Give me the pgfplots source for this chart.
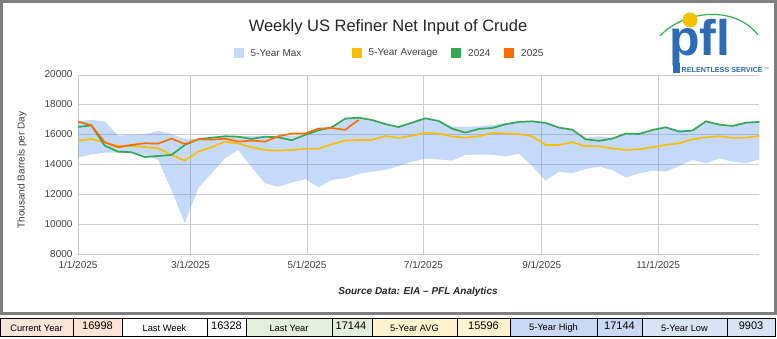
\documentclass[border=0pt]{standalone}
\usepackage{fontspec}
\setmainfont{Liberation Sans}
\usepackage{pgfplots}
\usepackage{pgfplotstable}
\pgfplotsset{compat=1.18}

\definecolor{gblue}{HTML}{4285F4}
\definecolor{gyellow}{HTML}{FBBC04}
\definecolor{ggreen}{HTML}{34A853}
\definecolor{gorange}{HTML}{FF6D01}
\definecolor{gridc}{HTML}{CCCCCC}
\definecolor{bandleg}{HTML}{C6DAFC}
\definecolor{framec}{HTML}{7F7F7F}
\definecolor{pflblue}{HTML}{2E6BB5}
\definecolor{pflgreen}{HTML}{2DB34A}
\definecolor{pflyellow}{HTML}{F5C200}
\definecolor{cpeach}{HTML}{FCE4D6}
\definecolor{cgreen}{HTML}{E2EFDA}
\definecolor{cyellow}{HTML}{FFF2CC}
\definecolor{chigh}{HTML}{C9D9F5}
\definecolor{clow}{HTML}{D6E4F5}

\pgfplotstableread{
day avg y2024
0 15610 16520
7 15720 16630
14 15470 15270
21 15250 14870
28 15270 14830
35 15180 14510
42 15090 14580
49 14650 14650
56 14270 15320
63 14870 15700
70 15160 15800
77 15540 15900
84 15410 15870
91 15160 15720
98 14980 15870
105 14940 15830
112 14980 15630
119 15070 15990
126 15070 16300
133 15360 16500
140 15610 17080
147 15650 17144
154 15650 16990
161 15920 16720
168 15790 16520
175 15940 16810
182 16140 17100
189 16080 16920
196 15880 16410
203 15810 16140
210 15900 16390
217 16120 16450
224 16080 16700
231 16050 16860
238 15900 16900
245 15320 16790
252 15320 16480
259 15500 16340
266 15230 15700
273 15230 15590
280 15090 15740
287 14980 16080
294 15030 16050
301 15160 16320
308 15320 16500
315 15430 16210
322 15700 16280
329 15830 16900
336 15900 16680
343 15790 16590
350 15810 16810
357 15920 16860
}\hist

% 5-year range: 5-year max from the first week to the last, then 5-year min back
\pgfplotstableread{
day val
0 16920
7 16990
14 16880
21 15940
28 15990
35 16030
42 16250
49 16050
56 15720
63 15720
70 15800
77 15900
84 15930
91 15930
98 15930
105 15930
112 15930
119 15990
126 16300
133 16500
140 17080
147 17144
154 16990
161 16720
168 16520
175 16810
182 17100
189 16920
196 16560
203 16540
210 16560
217 16650
224 16780
231 16880
238 16900
245 16790
252 16480
259 16340
266 15800
273 15900
280 15800
287 16080
294 16050
301 16320
308 16500
315 16300
322 16350
329 16900
336 16680
343 16590
350 16810
357 16860
357 14350
350 14090
343 14200
336 14420
329 14090
322 14310
315 13910
308 13530
301 13600
294 13420
287 13130
280 13640
273 13870
266 13710
259 13420
252 13530
245 12930
238 13910
231 14740
224 14540
217 14670
210 14670
203 14650
196 14270
189 14350
182 14400
175 14200
168 13910
161 13640
154 13530
147 13380
140 13090
133 12980
126 12480
119 13040
112 12800
105 12530
98 12750
91 13820
84 14980
77 14420
70 13420
63 12420
56 10080
49 12300
42 14310
35 14650
28 14800
21 14800
14 14800
7 14690
0 14470
}\band

\pgfplotstableread{
day y2025
0 16880
7 16630
14 15500
21 15160
28 15320
35 15430
42 15410
49 15740
56 15380
63 15700
70 15670
77 15740
84 15540
91 15610
98 15540
105 15900
112 16080
119 16080
126 16410
133 16450
140 16328
147 16998
}\cur

\begin{document}
\begin{tikzpicture}
\fill[white] (0,0) rectangle (777pt,339pt);

% frame
\draw[framec, line width=2.6pt] (1.3pt,25.5pt) rectangle (775.7pt,337.7pt);

\begin{axis}[
  at={(78pt,84.7pt)}, anchor=south west,
  scale only axis, width=681.3pt, height=179.3pt,
  xmin=0, xmax=357, ymin=8000, ymax=20000,
  xtick={0,59,120,181,243,304},
  xticklabels={1/1/2025,3/1/2025,5/1/2025,7/1/2025,9/1/2025,11/1/2025},
  ytick={8000,10000,12000,14000,16000,18000,20000},
  scaled y ticks=false,
  grid=major,
  major grid style={gridc, line width=0.8pt},
  axis line style={draw=none},
  tick style={draw=none},
  ticklabel style={font=\fontsize{10}{11}\selectfont, text=black!75},
  yticklabel style={xshift=-2pt, yshift=0.5pt},
  xticklabel style={yshift=-3pt},
  /pgf/number format/assume math mode=true,
  /pgf/number format/1000 sep={},
]
\addplot[fill=gblue, fill opacity=0.3, draw=none] table[x=day, y=val] {\band};
\addplot[gyellow, line width=1.7pt, line join=round] table[x=day, y=avg] {\hist};
\addplot[ggreen, line width=1.7pt, line join=round] table[x=day, y=y2024] {\hist};
\addplot[gorange, line width=1.7pt, line join=round] table[x=day, y=y2025] {\cur};
\end{axis}

% y label
\node[rotate=90, font=\fontsize{10}{12}\selectfont, text=black!75] at (22pt,169pt) {Thousand Barrels per Day};

% title
\node[font=\fontsize{16.5}{19}\selectfont, text=black!85] at (388pt,312pt) {Weekly US Refiner Net Input of Crude};

% legend
\begin{scope}[font=\fontsize{10}{12}\selectfont]
\fill[bandleg] (234pt,281pt) rectangle (244pt,291pt);
\node[anchor=west, inner sep=0pt, text=black!75] at (250.5pt,286pt) {5-Year Max};
\fill[gyellow] (352pt,281pt) rectangle (362pt,291pt);
\node[anchor=west, inner sep=0pt, text=black!75] at (368.5pt,286pt) {5-Year Average};
\fill[ggreen] (451pt,281pt) rectangle (461pt,291pt);
\node[anchor=west, inner sep=0pt, text=black!75] at (468pt,286pt) {2024};
\fill[gorange] (504pt,281pt) rectangle (514pt,291pt);
\node[anchor=west, inner sep=0pt, text=black!75] at (521pt,286pt) {2025};
\end{scope}

% source
\node[font=\fontsize{10}{12}\selectfont\bfseries\itshape, text=black!85] at (418pt,47pt) {Source Data: EIA – PFL Analytics};

% logo
\draw[pflgreen, line width=1.2pt] (660pt,303pt) .. controls (684pt,329pt) and (735pt,334pt) .. (758pt,304pt);
\fill[pflyellow] (690pt,319pt) circle (7.5pt);
\node[font=\fontsize{50}{50}\selectfont\bfseries, text=pflblue, anchor=base west, inner sep=0pt, text depth=0pt] at (669pt,283.5pt) {pfl};
\fill[pflblue] (672.5pt,265.5pt) rectangle (679.5pt,276pt);
\node[font=\fontsize{7.2}{8}\selectfont\bfseries, text=pflblue, anchor=west, inner sep=0pt] at (681.5pt,268.8pt) {RELENTLESS SERVICE};
\node[font=\fontsize{3}{3}\selectfont, text=pflblue, anchor=west, inner sep=0pt] at (764pt,270.5pt) {TM};

% table row
\begin{scope}[font=\fontsize{9.3}{11}\selectfont]
\fill[cpeach] (0pt,3pt) rectangle (122pt,21pt);
\fill[cgreen] (246pt,3pt) rectangle (372pt,21pt);
\fill[cyellow] (372pt,3pt) rectangle (510pt,21pt);
\fill[chigh] (510pt,3pt) rectangle (642pt,21pt);
\fill[clow] (642pt,3pt) rectangle (775pt,21pt);
\draw[black, line width=0.6pt] (0.3pt,3pt) rectangle (775pt,21pt);
\foreach \x in {73,122,207,246,332,372,457,510,597,642,727} {
  \draw[black, line width=0.6pt] (\x pt,3pt) -- (\x pt,21pt);
}
\node at (36.5pt,11pt) {Current Year};
\node[font=\fontsize{11}{12}\selectfont] at (97.5pt,13pt) {16998};
\node at (164.5pt,11pt) {Last Week};
\node[font=\fontsize{11}{12}\selectfont] at (226.5pt,13pt) {16328};
\node at (289pt,11pt) {Last Year};
\node[font=\fontsize{11}{12}\selectfont] at (351pt,13pt) {17144};
\node at (414.5pt,11pt) {5-Year AVG};
\node[font=\fontsize{11}{12}\selectfont] at (483.5pt,13pt) {15596};
\node at (553.5pt,11pt) {5-Year High};
\node[font=\fontsize{11}{12}\selectfont] at (619.5pt,13pt) {17144};
\node at (684.5pt,11pt) {5-Year Low};
\node[font=\fontsize{11}{12}\selectfont] at (751pt,13pt) {9903};
\end{scope}
\path[use as bounding box] (0,0) rectangle (777pt,339pt);
\end{tikzpicture}
\end{document}
